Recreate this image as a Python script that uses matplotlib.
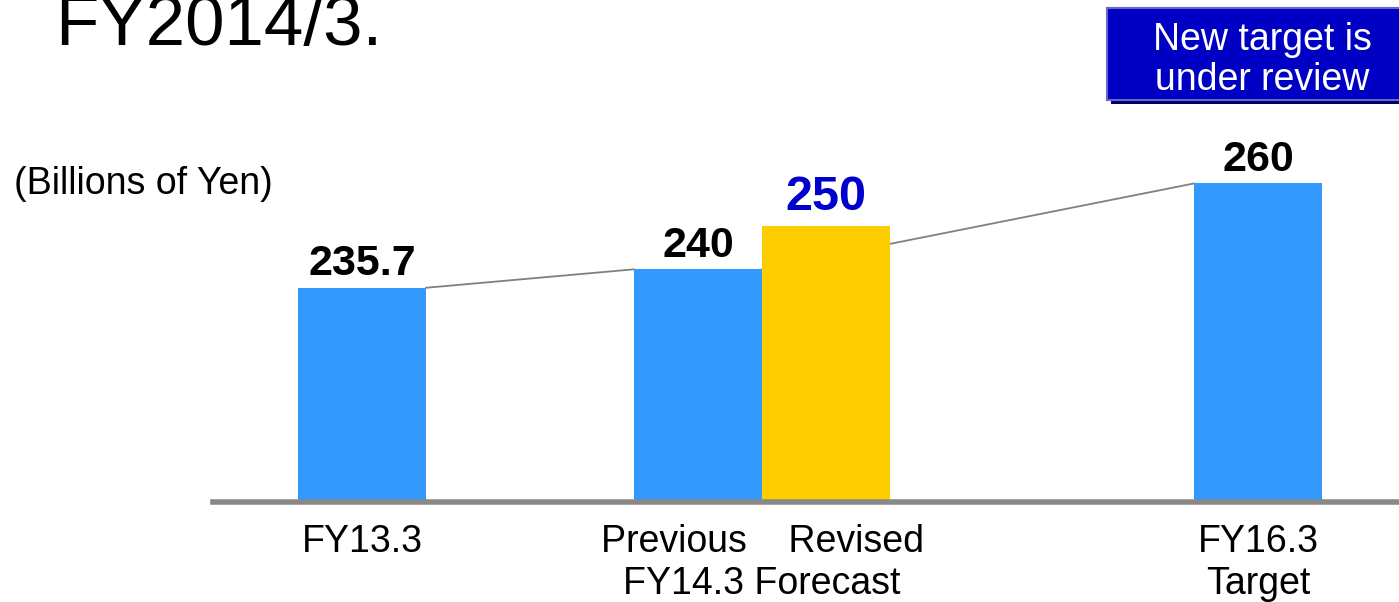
import matplotlib.pyplot as plt
from matplotlib.patches import Rectangle

plt.rcParams['font.family'] = ['Liberation Sans', 'DejaVu Sans']

# data
bar_names = ["FY13.3", "Previous", "Revised", "FY16.3"]
values = [235.7, 240, 250, 260]
value_labels = ["235.7", "240", "250", "260"]
bar_colors = ["#3399ff", "#3399ff", "#ffcc00", "#3399ff"]
label_colors = ["black", "black", "#0000cc", "black"]
label_sizes = [31, 31, 35, 31]
tick_labels = ["FY13.3", "Previous    Revised\nFY14.3 Forecast", "FY16.3\nTarget"]

# layout (bar width = 1 unit)
xpos = [1.164, 3.789, 4.789, 8.164]
tick_pos = [1.164, 4.29, 8.164]
ybase = 185.8

fig = plt.figure(figsize=(13.99, 6.02), dpi=100)
ax = fig.add_axes([213 / 1399, 100 / 602, 1 - 213 / 1399, 502 / 602])

ax.bar(xpos, values, width=1.0, color=bar_colors, zorder=3)

# connecting lines (the second goes behind the revised bar)
ax.plot([xpos[0] + 0.5, xpos[1] - 0.5], [values[0], values[1]], color="#808080", lw=1.3, zorder=2)
ax.plot([xpos[1] + 0.5, xpos[3] - 0.5], [values[1], values[3]], color="#808080", lw=1.3, zorder=2)

for x, v, lab, c, s in zip(xpos, values, value_labels, label_colors, label_sizes):
    off = 9 if s == 31 else 12
    ax.annotate(lab, (x, v), xytext=(0, off), textcoords="offset points",
                ha="center", va="baseline", fontsize=s, fontweight="bold", color=c)

ax.axhline(ybase, color="#888888", lw=4, zorder=4, clip_on=False)

ax.set_xlim(0, 1186 / 128)
ax.set_ylim(ybase, ybase + 502 / 4.293)
ax.set_xticks(tick_pos)
ax.set_xticklabels(tick_labels, fontsize=27, linespacing=1.2)
ax.tick_params(axis="x", length=0, pad=16)
ax.set_yticks([])
for sp in ax.spines.values():
    sp.set_visible(False)

# title and unit
fig.text(55 / 1399, 1 - 45 / 602, "FY2014/3.", fontsize=51, va="baseline", ha="left")
fig.text(14 / 1399, 1 - 184 / 602, "(Billions of Yen)", fontsize=27, va="center", ha="left")

# note box
bx, by, bw, bh = 1107 / 1399, 1 - 100 / 602, 320 / 1399, 92 / 602
fig.patches.append(Rectangle((bx + 4 / 1399, by - 4 / 602), bw, bh, transform=fig.transFigure,
                             facecolor="#000066", edgecolor="none", zorder=1))
fig.patches.append(Rectangle((bx, by), bw, bh, transform=fig.transFigure,
                             facecolor="#0000c4", edgecolor="#6666cc", lw=1.5, zorder=2))
fig.text(1262 / 1399, 1 - 60 / 602, "New target is\nunder review", fontsize=27, color="white",
         ha="center", va="center", linespacing=1.15, zorder=3)

fig.savefig("out.png", dpi=100)
